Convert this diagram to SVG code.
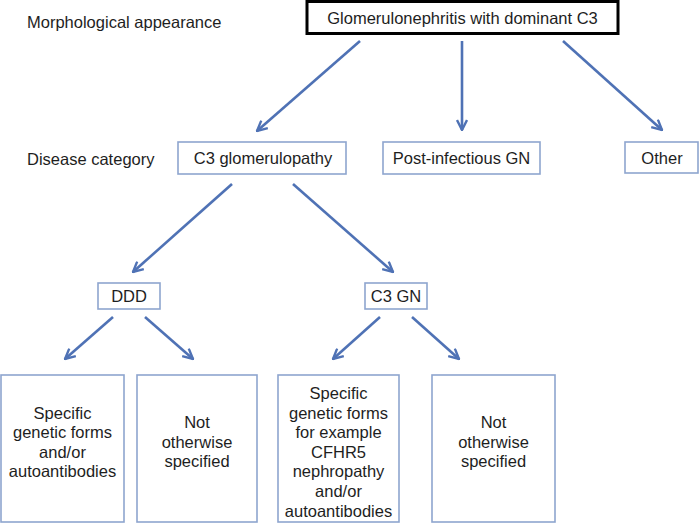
<svg xmlns="http://www.w3.org/2000/svg" width="700" height="525" viewBox="0 0 700 525">
<defs>
<style>
text{font-family:"Liberation Sans",Arial,sans-serif;font-size:16.5px;fill:#1e1e1e}
.c{text-anchor:middle}
.box{fill:#fff;stroke:#8ea5cf;stroke-width:1.6}
.top{fill:#fff;stroke:#000;stroke-width:3}
.arr{stroke:#4f72b5;stroke-width:2.6;fill:none;marker-end:url(#ah)}
</style>
<marker id="ah" viewBox="0 0 12 12" refX="11" refY="6" markerWidth="12" markerHeight="12" markerUnits="userSpaceOnUse" orient="auto">
<path d="M1,1 L11,6 L1,11" fill="none" stroke="#4f72b5" stroke-width="2.4" stroke-linejoin="miter"/>
</marker>
</defs>
<rect width="700" height="525" fill="#fff"/>
<text x="27" y="28">Morphological appearance</text>
<text x="27" y="165">Disease category</text>
<g id="connectors">
<line class="arr" x1="360" y1="41" x2="257" y2="131"/>
<line class="arr" x1="462" y1="41" x2="462" y2="130"/>
<line class="arr" x1="563" y1="41" x2="662" y2="130"/>
<line class="arr" x1="232" y1="184" x2="133" y2="272"/>
<line class="arr" x1="293" y1="184" x2="393" y2="272"/>
<line class="arr" x1="113" y1="317" x2="65" y2="359"/>
<line class="arr" x1="145" y1="317" x2="193" y2="359"/>
<line class="arr" x1="380" y1="317" x2="333" y2="359"/>
<line class="arr" x1="412" y1="317" x2="459" y2="359"/>
</g>
<g id="gn-c3">
<rect class="top" x="307" y="1.5" width="311" height="32"/>
<text class="c" x="462.5" y="24">Glomerulonephritis with dominant C3</text>
</g>
<g id="c3-glomerulopathy">
<rect class="box" x="178" y="142" width="168" height="32"/>
<text class="c" x="263" y="164">C3 glomerulopathy</text>
</g>
<g id="post-infectious">
<rect class="box" x="383" y="142" width="157" height="32"/>
<text class="c" x="461.5" y="164">Post-infectious GN</text>
</g>
<g id="other">
<rect class="box" x="625" y="142" width="73" height="31"/>
<text class="c" x="662" y="164">Other</text>
</g>
<g id="ddd">
<rect class="box" x="98" y="283" width="62" height="26"/>
<text class="c" x="129" y="302">DDD</text>
</g>
<g id="c3gn">
<rect class="box" x="365" y="283" width="62" height="26"/>
<text class="c" x="396" y="302">C3 GN</text>
</g>
<g id="ddd-specific">
<rect class="box" x="1" y="375" width="123" height="147"/>
<text class="c" x="62.5" y="418.6">Specific</text>
<text class="c" x="62.5" y="438.2">genetic forms</text>
<text class="c" x="62.5" y="457.8">and/or</text>
<text class="c" x="62.5" y="477.4">autoantibodies</text>
</g>
<g id="ddd-nos">
<rect class="box" x="137" y="375" width="120" height="147"/>
<text class="c" x="197" y="428">Not</text>
<text class="c" x="197" y="447.6">otherwise</text>
<text class="c" x="197" y="467.2">specified</text>
</g>
<g id="c3gn-specific">
<rect class="box" x="278" y="375" width="121" height="147"/>
<text class="c" x="338.5" y="399">Specific</text>
<text class="c" x="338.5" y="418.6">genetic forms</text>
<text class="c" x="338.5" y="438.2">for example</text>
<text class="c" x="338.5" y="457.8">CFHR5</text>
<text class="c" x="338.5" y="477.4">nephropathy</text>
<text class="c" x="338.5" y="497">and/or</text>
<text class="c" x="338.5" y="516.6">autoantibodies</text>
</g>
<g id="c3gn-nos">
<rect class="box" x="432" y="375" width="123" height="147"/>
<text class="c" x="493.5" y="428">Not</text>
<text class="c" x="493.5" y="447.6">otherwise</text>
<text class="c" x="493.5" y="467.2">specified</text>
</g>
</svg>
